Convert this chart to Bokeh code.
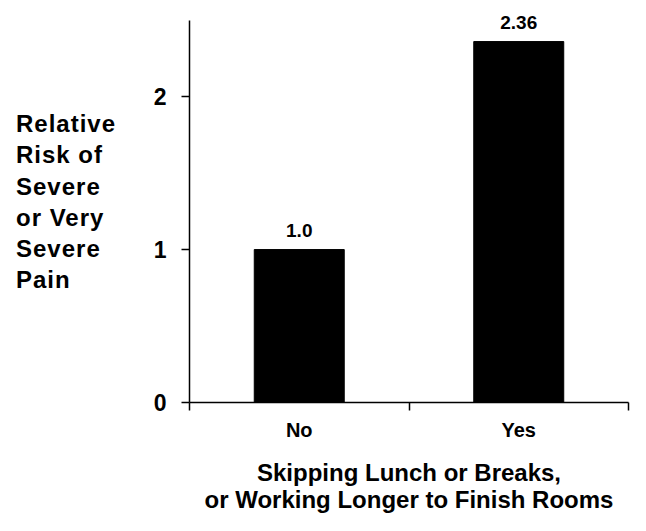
from bokeh.plotting import figure
from bokeh.layouts import row
from bokeh.models import (ColumnDataSource, FixedTicker, CustomJSTickFormatter,
                          LabelSet, Range1d, Div)
from bokeh.core.properties import value
from bokeh.embed import file_html
from bokeh.resources import INLINE

# ---- data ----
categories = ["No", "Yes"]
relative_risk = [1.0, 2.36]
value_labels = ["1.0", "2.36"]
y_ticks = [0, 1, 2]
y_axis_max = 2.5
y_title_lines = ["Relative", "Risk of", "Severe", "or Very", "Severe", "Pain"]
x_title = "Skipping Lunch or Breaks,\nor Working Longer to Finish Rooms"

FONT = "Liberation Sans"
TITLE_W = 150

xs = [i + 0.5 for i in range(len(categories))]
src = ColumnDataSource(dict(x=xs, top=relative_risk, lab=value_labels))

p = figure(width=630 - TITLE_W, height=515, output_backend="svg", toolbar_location=None,
           x_range=Range1d(0, len(categories)), y_range=Range1d(0, 2.55))
p.min_border_left = 189 - TITLE_W
p.min_border_right = 2
p.min_border_top = 12
p.min_border_bottom = 111
p.outline_line_color = None
p.grid.visible = False
p.background_fill_color = "white"
p.border_fill_color = "white"

p.vbar(x="x", top="top", width=0.41, source=src, color="black")

p.add_layout(LabelSet(x="x", y="top", text="lab", source=src, y_offset=13,
                      text_align="center", text_baseline="bottom",
                      text_font=value(FONT), text_font_style="bold",
                      text_font_size="19px", text_color="black", level="overlay"))

# x axis
xa = p.xaxis[0]
xa.ticker = FixedTicker(ticks=xs, minor_ticks=list(range(len(categories) + 1)))
xa.formatter = CustomJSTickFormatter(args=dict(labels=categories),
                                     code="return labels[Math.floor(tick)];")
xa.major_tick_out = 0
xa.major_tick_in = 0
xa.minor_tick_out = 8
xa.minor_tick_in = 0
xa.minor_tick_line_color = "black"
xa.minor_tick_line_width = 1.5
xa.axis_line_width = 1.5
xa.axis_line_color = "black"
xa.major_label_standoff = 8
xa.major_label_text_font = FONT
xa.major_label_text_font_style = "bold"
xa.major_label_text_font_size = "20px"
xa.major_label_text_color = "black"
xa.axis_label = x_title
xa.axis_label_standoff = 15
xa.axis_label_text_font = FONT
xa.axis_label_text_font_style = "bold"
xa.axis_label_text_font_size = "24px"
xa.axis_label_text_color = "black"
xa.axis_label_text_line_height = 1.0

# y axis
ya = p.yaxis[0]
ya.bounds = (0, y_axis_max)
ya.ticker = FixedTicker(ticks=y_ticks, minor_ticks=[])
ya.major_tick_out = 8
ya.major_tick_in = 0
ya.major_tick_line_width = 1.5
ya.major_tick_line_color = "black"
ya.axis_line_width = 1.5
ya.axis_line_color = "black"
ya.major_label_standoff = 15
ya.major_label_text_font = FONT
ya.major_label_text_font_style = "bold"
ya.major_label_text_font_size = "23px"
ya.major_label_text_color = "black"

# y title: left-aligned stacked lines to the left of the plot
title_html = (
    '<div style="font-family:\'%s\';font-weight:bold;font-size:24px;'
    'letter-spacing:1px;line-height:31.3px;color:black;padding-left:16px;'
    'padding-top:108px;margin:0;white-space:nowrap;">%s</div>'
    % (FONT, "<br>".join(y_title_lines))
)
ytitle = Div(text=title_html, width=TITLE_W, height=515, margin=0)

layout = row(ytitle, p, spacing=0)
open("out.html", "w").write(file_html(layout, INLINE))
